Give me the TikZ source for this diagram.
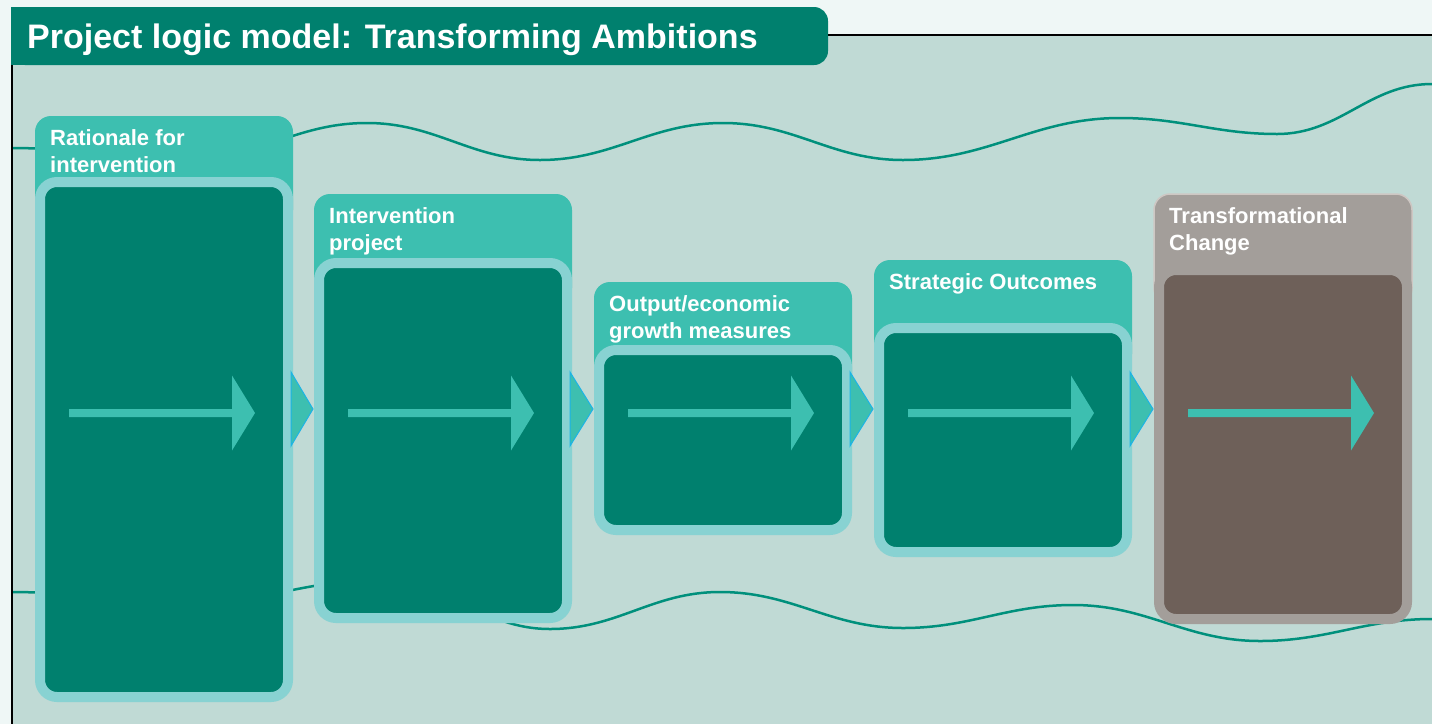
\documentclass[tikz,border=0pt]{standalone}
\usepackage{fontspec}
\setmainfont{Liberation Sans}
\usetikzlibrary{calc}
\definecolor{outerbg}{HTML}{EFF7F6}
\definecolor{panelbg}{HTML}{C0DAD5}
\definecolor{dkgreen}{HTML}{00806E}
\definecolor{tabteal}{HTML}{3DBFB0}
\definecolor{rimteal}{HTML}{88D2D2}
\definecolor{wavegreen}{HTML}{00907C}
\definecolor{tricyan}{HTML}{1CB4E6}
\definecolor{greytab}{HTML}{A39E9A}
\definecolor{greyrim}{HTML}{CEC7C3}
\definecolor{darkbrown}{HTML}{6E6059}
\tikzset{
  tab/.style={fill=tabteal, rounded corners=16pt, anchor=north west, minimum width=258pt, minimum height=110pt, inner sep=0pt, outer sep=0pt},
  greytabstyle/.style={tab, fill=greytab, draw=greyrim, line width=1.5pt},
  box/.style={fill=dkgreen, draw=rimteal, line width=10pt, rounded corners=17pt, anchor=north west, minimum width=248pt, inner sep=0pt, outer sep=5pt},
  greybox/.style={box, fill=darkbrown, draw=greytab},
  htext/.style={anchor=north west, inner sep=0pt, align=left, text=white, font=\fontsize{22}{27}\selectfont\bfseries},
  titletext/.style={anchor=base west, inner sep=0pt, text=white, font=\fontsize{34}{40}\selectfont\bfseries},
  wave/.style={draw=wavegreen, line width=2.5pt},
  flow/.style={fill=tabteal},
  link/.style={fill=tabteal, draw=tricyan, line width=1pt, line join=miter},
  frame/.style={draw=black, line width=2pt}
}
\begin{document}
\begin{tikzpicture}[x=1pt,y=-1pt]
\useasboundingbox (0,0) rectangle (1432,724);
\fill[outerbg] (0,0) rectangle (1432,724);
\fill[panelbg] (12,35) rectangle (1432,724);

% waves
\draw[wave] (12,148) to[out=0,in=180] (185,160) to[out=0,in=180] (367,123)
  to[out=0,in=180] (540,160) to[out=0,in=180] (723,123) to[out=0,in=180] (903,160)
  to[out=0,in=180] (1120,118) to[out=0,in=180] (1277,134) to[out=0,in=180] (1432,84);
\draw[wave] (12,592) to[out=0,in=180] (185,604) to[out=0,in=180] (380,580)
  to[out=0,in=180] (550,629) to[out=0,in=180] (720,592) to[out=0,in=180] (903,628)
  to[out=0,in=180] (1073,605) to[out=0,in=180] (1260,641) to[out=0,in=180] (1432,619);

% header tabs
\node[tab] (h1) at (35,116) {};
\node[tab] (h2) at (314,194) {};
\node[tab] (h3) at (594,282) {};
\node[tab] (h4) at (874,260) {};
\node[greytabstyle] (h5) at (1154,194) {};

% boxes
\node[box, minimum height=515pt] (o1) at (35,177) {};
\node[box, minimum height=355pt] (o2) at (314,258) {};
\node[box, minimum height=180pt] (o3) at (594,345) {};
\node[box, minimum height=224pt] (o4) at (874,323) {};
\node[greybox, minimum height=349pt] (o5) at (1154,265) {};

% header texts
\node[htext] (t1) at ($(h1.north west)+(15,13)$) {Rationale for\\intervention};
\node[htext] (t2) at ($(h2.north west)+(15,13)$) {Intervention\\project};
\node[htext] (t3) at ($(h3.north west)+(15,13)$) {Output/economic\\growth measures};
\node[htext] (t4) at ($(h4.north west)+(15,13)$) {Strategic Outcomes};
\node[htext] (t5) at ($(h5.north west)+(15,13)$) {Transformational\\Change};

% arrows inside boxes
\coordinate (ay) at (0,413);
\coordinate (ty) at (0,409);
\foreach \i in {1,...,5}{
  \fill[flow] ($(o\i.west |- ay)+(34,-4)$) -- ++(163,0) -- ++(0,-33.5) -- ++(23,37.5)
    -- ++(-23,37.5) -- ++(0,-33.5) -- ++(-163,0) -- cycle;
}
% connectors between boxes
\foreach \i/\j in {1/2,2/3,3/4,4/5}{
  \draw[link] ($(o\i.east |- ty)+(-2,-37)$) -- ($(o\j.west |- ty)+(-1,0)$)
    -- ($(o\i.east |- ty)+(-2,37)$) -- cycle;
}

% title
\fill[dkgreen, rounded corners=14pt] (11,7) rectangle (828,65);
\fill[dkgreen] (11,7) rectangle (60,65);
\node[titletext] (title) at (27,48) {Project logic model: Transforming Ambitions};

% frame lines
\draw[frame] (12,65) -- (12,724);
\draw[frame] (828,35) -- (1432,35);
\end{tikzpicture}
\end{document}
